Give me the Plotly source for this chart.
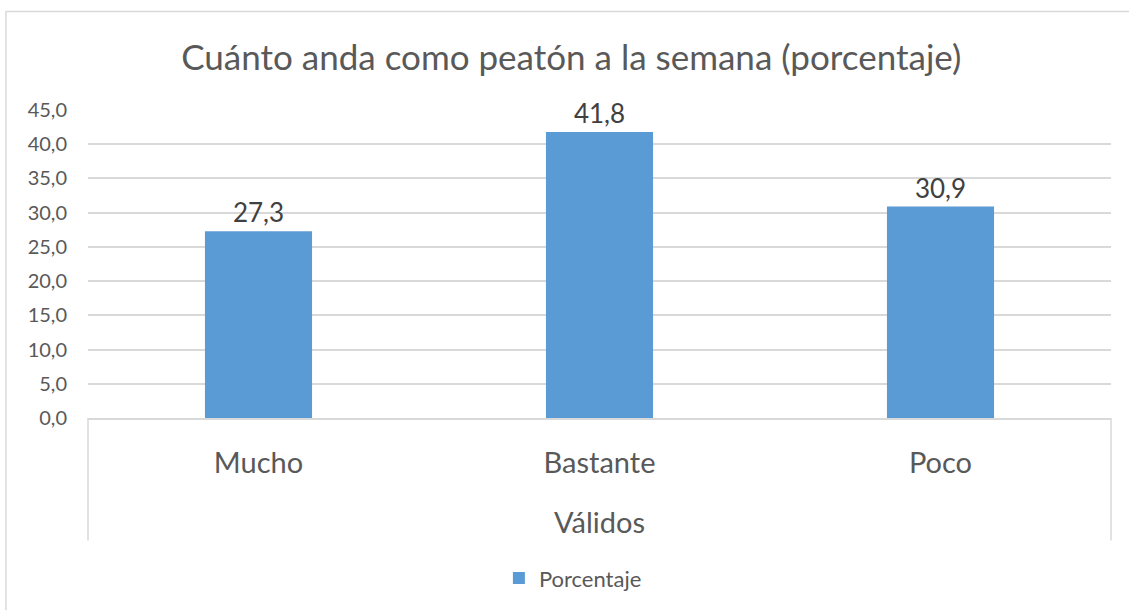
import plotly.graph_objects as go

# Datos del gráfico
categorias = ["Mucho", "Bastante", "Poco"]
porcentajes = [27.3, 41.8, 30.9]
grupo = "Válidos"
serie = "Porcentaje"
titulo = "Cuánto anda como peatón a la semana (porcentaje)"
y_ticks = [0, 5, 10, 15, 20, 25, 30, 35, 40, 45]

AZUL = "#5B9BD5"
GRIS_TXT = "#595959"
GRIS_LINEA = "#D9D9D9"
FUENTE = "Lato, 'Open Sans', sans-serif"

fig = go.Figure()
fig.add_bar(
    x=categorias, y=porcentajes, name=serie,
    marker=dict(color=AZUL, line=dict(width=0)),
    text=[f"{v:.1f}".replace(".", ",") for v in porcentajes],
    textposition="outside", cliponaxis=False,
    textfont=dict(size=26, color="#404040", family=FUENTE),
)

# lineas divisorias del eje de categorias y marco exterior (estilo Excel)
for xp in (0, 1):
    fig.add_shape(type="line", xref="paper", yref="paper",
                  x0=xp, x1=xp, y0=0, y1=-0.398,
                  line=dict(color=GRIS_LINEA, width=1.5))
fig.add_shape(type="rect", xref="paper", yref="paper",
              x0=-0.0802, x1=1.03, y0=1.32, y1=-0.7,
              line=dict(color=GRIS_LINEA, width=1.5), layer="below")

fig.update_layout(
    width=1129, height=610,
    margin=dict(l=88, r=18, t=110, b=191),
    paper_bgcolor="white", plot_bgcolor="white",
    separators=", ",
    font=dict(family=FUENTE, color=GRIS_TXT),
    title=dict(text=titulo, x=0.506, xanchor="center", y=0.906, yanchor="middle",
               font=dict(size=35, color=GRIS_TXT, family=FUENTE)),
    bargap=0.686,
    showlegend=True,
    legend=dict(orientation="h", x=0.474, xanchor="center", y=-0.515,
                yanchor="middle", font=dict(size=22, color=GRIS_TXT)),
    xaxis=dict(
        type="category", showgrid=False, showline=True, linecolor=GRIS_LINEA,
        linewidth=1.5, ticks="", ticklabelstandoff=18,
        tickfont=dict(size=29, color=GRIS_TXT),
        title=dict(text=grupo, standoff=35, font=dict(size=29, color=GRIS_TXT)),
    ),
    yaxis=dict(
        range=[0, 45], tickvals=y_ticks, tickformat=".1f",
        showgrid=True, gridcolor=GRIS_LINEA, gridwidth=1.5,
        zeroline=False, showline=False, ticks="", ticklabelstandoff=20,
        tickfont=dict(size=20, color=GRIS_TXT),
    ),
)

# quitar el margen por defecto del body para que la figura empiece en (0, 0)
fig.write_html("out.html", config={"displayModeBar": False},
               post_script="document.body.style.margin='0';")
